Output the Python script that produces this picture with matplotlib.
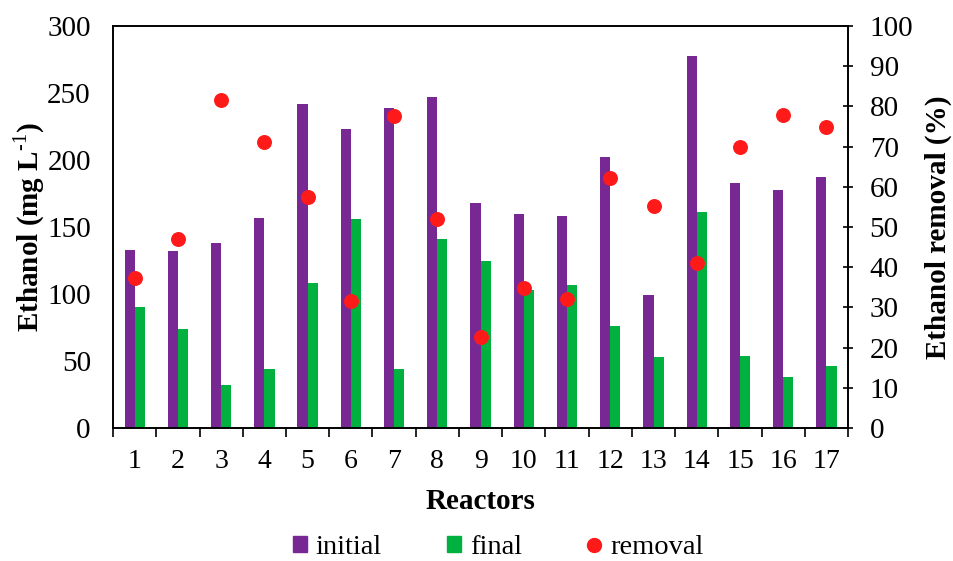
import numpy as np
import matplotlib.pyplot as plt
from matplotlib.lines import Line2D
from matplotlib.patches import Patch

reactors = [str(i) for i in range(1, 18)]
initial = [133, 132, 138, 157, 242, 223, 239, 247, 168, 160, 158, 202, 99, 278, 183, 178, 187]
final = [90, 74, 32, 44, 108, 156, 44, 141, 125, 103, 107, 76, 53, 161, 54, 38, 46]
removal = [37.4, 46.9, 81.7, 71.1, 57.5, 31.7, 77.6, 52.1, 22.7, 34.9, 32.0, 62.3, 55.3, 41.1, 69.8, 77.8, 74.8]

plt.rcParams['font.family'] = ['Liberation Serif', 'DejaVu Serif']
plt.rcParams['mathtext.fontset'] = 'custom'
plt.rcParams['mathtext.rm'] = 'Liberation Serif'
plt.rcParams['mathtext.bf'] = 'Liberation Serif:bold'

purple = '#782893'
green = '#00B140'
red = '#FF1A1A'

fig = plt.figure(figsize=(9.54, 5.61), dpi=100)
ax = fig.add_axes([0.1185, 0.237, 0.7705, 0.7166])
x = np.arange(len(reactors))
w = 0.235
ax.bar(x - w / 2, initial, w, color=purple, zorder=2)
ax.bar(x + w / 2, final, w, color=green, zorder=2)
ax.set_xlim(-0.5, len(reactors) - 0.5)
ax.set_ylim(0, 300)
ax.set_yticks(np.arange(0, 301, 50))
ax.tick_params(axis='y', length=0, labelsize=21, pad=16)
ax.set_xticks(x)
ax.set_xticklabels(reactors)
ax.set_xticks(np.arange(-0.5, len(reactors), 1), minor=True)
ax.tick_params(axis='x', which='major', length=0, labelsize=20, pad=15)
ax.tick_params(axis='x', which='minor', length=6.5, width=1.2, direction='out')
ax.set_xlabel('Reactors', fontsize=21, fontweight='bold', labelpad=10)
ax.set_ylabel('Ethanol (mg L$^{\\text{-1}}$)', fontsize=21, fontweight='bold', labelpad=0)
for s in ax.spines.values():
    s.set_linewidth(1.2)

ax2 = ax.twinx()
ax2.scatter(x, removal, s=95, color=red, zorder=3)
ax2.set_ylim(0, 100)
ax2.set_yticks(np.arange(0, 101, 10))
ax2.tick_params(axis='y', length=7, width=1.2, direction='inout', labelsize=21, pad=12)
ax2.set_ylabel('Ethanol removal (%)', fontsize=21, fontweight='bold', labelpad=8)
ax2.set_xlim(-0.5, len(reactors) - 0.5)
for s in ax2.spines.values():
    s.set_linewidth(1.2)

handles = [Patch(color=purple, label='initial'),
           Patch(color=green, label='final'),
           Line2D([], [], marker='o', linestyle='none', color=red, markersize=10, label='removal')]
fig.legend(handles=handles, loc='center', bbox_to_anchor=(0.522, 0.024), ncol=3,
           frameon=False, fontsize=20.5, handlelength=0.5, handleheight=0.5,
           handletextpad=0.3, columnspacing=2.3)

fig.savefig('out.png', dpi=100)
